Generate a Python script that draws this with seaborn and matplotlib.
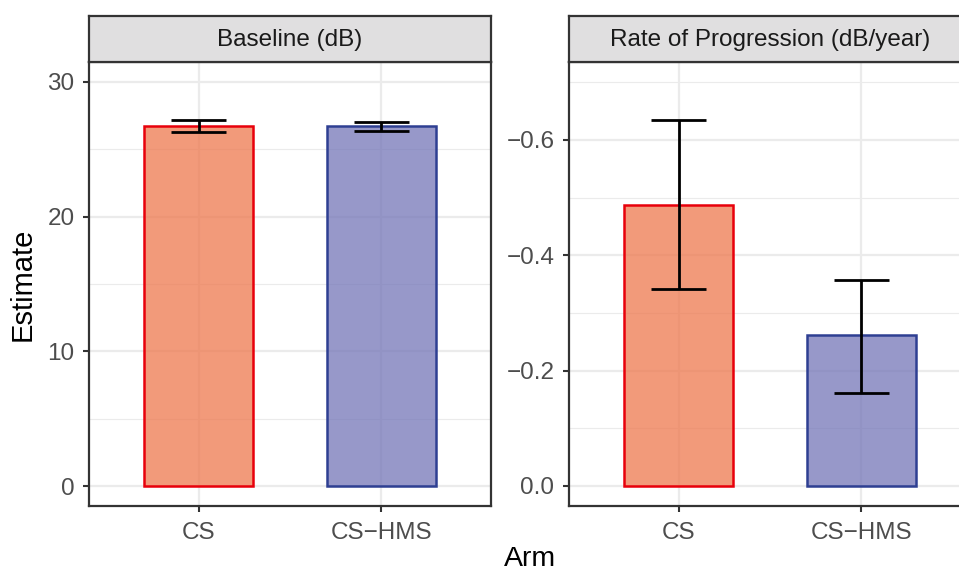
import numpy as np
import pandas as pd
import matplotlib
matplotlib.use("Agg")
import matplotlib.pyplot as plt
from matplotlib.colors import to_rgba
import seaborn as sns

# Data
arms = ["CS", "CS-HMS"]
baseline_est = [26.75, 26.75]
baseline_lo = [26.28, 26.38]
baseline_hi = [27.17, 27.02]
rate_est = [-0.487, -0.262]
rate_lo = [-0.342, -0.162]
rate_hi = [-0.634, -0.357]

panels = ["Baseline (dB)", "Rate of Progression (dB/year)"]
fill_colors = ["#EE784E", "#7476B8"]
edge_colors = ["#E8000B", "#2E3F92"]

sns.set_theme(style="white")
plt.rcParams["font.family"] = ["Liberation Sans", "DejaVu Sans"]

W, H = 959, 573
fig = plt.figure(figsize=(W / 100, H / 100), dpi=100)

def fx(px):
    return px / W

def fy(py):
    return (H - py) / H

panel_w = 402
ax1 = fig.add_axes([fx(89), fy(506), fx(panel_w), fy(62) - fy(506)])
ax2 = fig.add_axes([fx(569), fy(506), fx(panel_w), fy(62) - fy(506)])

grid_c = "#EBEBEB"
border_c = "#333333"
tick_c = "#4D4D4D"


def draw_panel(ax, est, lo, hi, ylim, major, minor, labels, title):
    df = pd.DataFrame({"Arm": arms, "Estimate": est})
    # grid first
    for y in major:
        ax.axhline(y, color=grid_c, lw=1.6, zorder=0)
    for y in minor:
        ax.axhline(y, color=grid_c, lw=0.8, zorder=0)
    for x in range(len(arms)):
        ax.axvline(x, color=grid_c, lw=1.6, zorder=0)

    sns.barplot(data=df, x="Arm", y="Estimate", hue="Arm", order=arms,
                hue_order=arms, palette=fill_colors, width=0.6,
                errorbar=None, legend=False, ax=ax, zorder=2)
    for patch, fc, ec in zip(ax.patches, fill_colors, edge_colors):
        patch.set_facecolor(to_rgba(fc, 0.75))
        patch.set_edgecolor(ec)
        patch.set_linewidth(1.8)

    xs = np.arange(len(arms))
    ax.vlines(xs, lo, hi, color="black", lw=2.0, zorder=3)
    ax.hlines(lo, xs - 0.15, xs + 0.15, color="black", lw=2.0, zorder=3)
    ax.hlines(hi, xs - 0.15, xs + 0.15, color="black", lw=2.0, zorder=3)

    ax.set_xlim(-0.6, 1.6)
    ax.set_ylim(*ylim)
    ax.set_yticks(major)
    ax.set_yticklabels(labels)
    ax.set_xticks(xs)
    ax.set_xticklabels([a.replace("-", "\u2212") for a in arms])
    ax.set_xlabel("")
    ax.set_ylabel("")
    ax.grid(False)
    ax.tick_params(axis="both", which="major", length=4, width=1.5,
                   color=border_c, labelcolor=tick_c, labelsize=17.5,
                   bottom=True, left=True)
    ax.tick_params(axis="y", pad=6.5)
    ax.tick_params(axis="x", pad=7.5)
    for s in ax.spines.values():
        s.set_color(border_c)
        s.set_linewidth(1.6)
        s.set_visible(True)

    # facet strip
    pos = ax.get_position()
    sax = fig.add_axes([pos.x0, fy(62), pos.width, fy(15.5) - fy(62)])
    sax.set_facecolor("#E0DFE0")
    sax.set_xticks([])
    sax.set_yticks([])
    for s in sax.spines.values():
        s.set_color(border_c)
        s.set_linewidth(1.6)
    sax.text(0.5, 0.47, title, ha="center", va="center", fontsize=17.5,
             color="#1A1A1A", transform=sax.transAxes)


draw_panel(ax1, baseline_est, baseline_lo, baseline_hi, (-1.48, 31.48),
           [0, 10, 20, 30], [5, 15, 25], ["0", "10", "20", "30"], panels[0])
draw_panel(ax2, rate_est, rate_lo, rate_hi, (0.0347, -0.735),
           [0.0, -0.2, -0.4, -0.6], [-0.1, -0.3, -0.5, -0.7],
           ["0.0", "\u22120.2", "\u22120.4", "\u22120.6"], panels[1])

fig.text(fx(23), fy(284), "Estimate", rotation=90, ha="center", va="center",
         fontsize=21, color="black")
fig.text(fx(530), fy(566.5), "Arm", ha="center", va="baseline",
         fontsize=20.5, color="black")

fig.savefig("out.png", dpi=100)
